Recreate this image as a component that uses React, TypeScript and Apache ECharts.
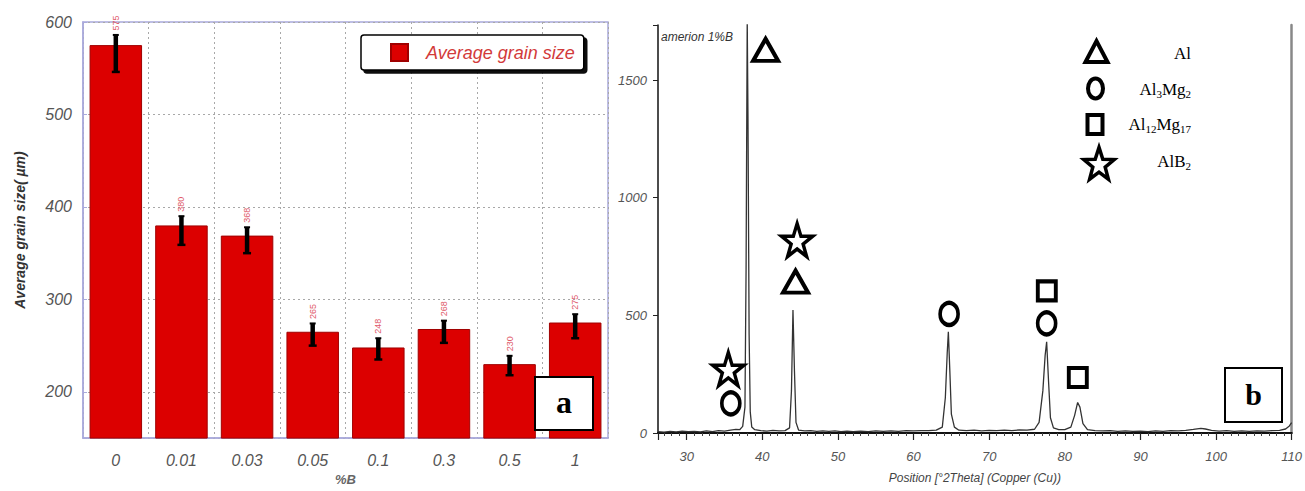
import React, { useEffect, useRef } from "react";
import * as echarts from "echarts";

// ---------- Panel (a): average grain size ----------
const grainCategories = ["0", "0.01", "0.03", "0.05", "0.1", "0.3", "0.5", "1"];
const grainSize = [575, 380, 369, 265, 248, 268, 230, 275];
const grainLabels = ["575", "380", "368", "265", "248", "268", "230", "275"];
const errorLow = [546, 359, 350, 250, 235, 253, 218, 258];
const errorHigh = [586, 390, 378, 274, 258, 277, 239, 284];

// ---------- Panel (b): XRD pattern ----------
const xrdTheta = [
  26.2, 27.0, 27.8, 28.6, 29.4, 30.2, 31.0, 31.8, 32.6, 33.4, 34.2, 35.0, 35.8, 36.5, 37.0, 37.4,
  37.7, 37.85, 38.0, 38.1, 38.25, 38.4, 38.6, 39.0, 39.8, 40.6, 41.4, 42.2, 43.0, 43.6, 43.85,
  44.05, 44.25, 44.45, 44.8, 45.6, 46.4, 47.2, 48.0, 48.8, 49.6, 50.4, 51.2, 52.0, 53.0, 54.0,
  55.0, 56.0, 57.0, 58.0, 59.0, 60.0, 61.0, 62.0, 63.0, 63.8, 64.2, 64.45, 64.6, 64.8, 65.0,
  65.4, 66.0, 67.0, 68.0, 69.0, 70.0, 71.0, 72.0, 73.0, 74.0, 75.0, 76.0, 76.6, 77.1, 77.4,
  77.6, 77.85, 78.1, 78.5, 79.2, 80.0, 80.8, 81.3, 81.7, 82.0, 82.4, 83.0, 84.0, 85.0, 86.0,
  87.0, 88.0, 89.0, 90.0, 91.0, 92.0, 93.0, 94.0, 95.0, 96.0, 97.0, 98.0, 98.6, 99.4, 100.4,
  101.4, 102.4, 103.4, 104.4, 105.4, 106.4, 107.4, 108.4, 109.2, 109.7, 110.0,
];
const xrdCounts = [
  6, 4, 7, 5, 8, 6, 7, 5, 9, 6, 10, 8, 12, 15, 14, 28,
  110, 700, 1760, 1340, 420, 90, 25, 14, 10, 8, 11, 9, 10, 22, 180,
  523, 260, 45, 12, 9, 10, 7, 9, 7, 9, 6, 8, 6, 8, 6,
  9, 7, 9, 7, 10, 9, 10, 10, 12, 25, 150, 340, 430, 260, 80,
  25, 12, 10, 12, 9, 11, 10, 12, 10, 13, 12, 16, 45, 180, 330,
  388, 220, 65, 22, 14, 14, 25, 75, 130, 110, 40, 14, 10, 9, 10,
  7, 9, 7, 8, 6, 9, 7, 10, 9, 11, 15, 20, 17, 11, 8,
  10, 7, 9, 7, 9, 8, 10, 11, 17, 30, 44,
];

// Phase markers [2θ, counts]
const alMarkers = [[40.43, 1628], [44.39, 643]];
const al3mg2Markers = [[35.83, 126], [64.7, 506], [77.6, 466]];
const al12mg17Markers = [[77.62, 604], [81.72, 236]];
const alb2Markers = [[35.5, 272], [44.6, 820]];

const STAR =
  "path://M50,0 L61.8,35 L98,35 L68.5,56.5 L79.5,91 L50,70 L20.5,91 L31.5,56.5 L2,35 L38.2,35 Z";

function starPoints(cx: number, cy: number, ro: number, ri: number, sy = 1) {
  const pts: number[][] = [];
  for (let i = 0; i < 10; i++) {
    const r = i % 2 === 0 ? ro : ri;
    const a = -Math.PI / 2 + (i * Math.PI) / 5;
    pts.push([cx + r * Math.cos(a), cy + r * Math.sin(a) * sy]);
  }
  return pts;
}

export default function App() {
  const ref = useRef<HTMLDivElement>(null);

  useEffect(() => {
    if (!ref.current) return;
    const chart = echarts.init(ref.current, undefined, { renderer: "svg" });

    const markerStyle = {
      color: "#ffffff",
      borderColor: "#000000",
      borderWidth: 4,
      opacity: 1,
    };
    const serif = "Liberation Serif, Times New Roman, serif";
    const legendRich = {
      n: { fontSize: 17, fontFamily: serif, color: "#111" },
      s: { fontSize: 11, fontFamily: serif, color: "#111", padding: [9, 0, 0, 0] },
    };

    const option: any = {
      animation: false,
      backgroundColor: "#ffffff",
      legend: {
        data: ["Average grain size"],
        left: 361,
        top: 35,
        padding: [8, 9, 8, 29],
        itemWidth: 17,
        itemHeight: 17,
        icon: "rect",
        backgroundColor: "#ffffff",
        borderColor: "#000000",
        borderWidth: 1.5,
        borderRadius: 3,
        shadowColor: "rgba(0,0,0,0.95)",
        shadowBlur: 0,
        shadowOffsetX: 3,
        shadowOffsetY: 3,
        textStyle: {
          fontSize: 18,
          fontStyle: "italic",
          fontFamily: "Liberation Sans, Arial, sans-serif",
          color: "#d23a3a",
          padding: [0, 0, 0, 13],
        },
      },
      grid: [
        {
          left: 83,
          top: 22,
          width: 525,
          height: 417,
          show: true,
          borderColor: "#a9a9dc",
          borderWidth: 1.5,
          backgroundColor: "#ffffff",
        },
        { left: 658, top: 25, width: 634, height: 408 },
      ],
      xAxis: [
        {
          type: "category",
          gridIndex: 0,
          data: grainCategories,
          name: "%B",
          nameLocation: "middle",
          nameGap: 32,
          nameTextStyle: { fontSize: 13, fontWeight: "bold", color: "#666", fontStyle: "italic" },
          axisLine: { lineStyle: { color: "#a9a9dc", width: 1.5 } },
          axisTick: { show: false },
          axisLabel: {
            margin: 14,
            fontSize: 16,
            fontStyle: "italic",
            color: "#555",
            fontFamily: "Liberation Sans, Arial, sans-serif",
          },
          splitLine: {
            show: true,
            interval: 0,
            lineStyle: { color: "#a8a8a8", type: [2, 3], width: 1 },
          },
        },
        {
          type: "value",
          gridIndex: 1,
          min: 26.2,
          max: 110,
          splitNumber: 8,
          offset: 2,
          name: "Position [°2Theta] (Copper (Cu))",
          nameLocation: "middle",
          nameGap: 37,
          nameTextStyle: {
            fontSize: 12,
            fontStyle: "italic",
            color: "#444",
            fontFamily: "Liberation Sans Narrow, Arial Narrow, Liberation Sans, sans-serif",
          },
          axisLine: { lineStyle: { color: "#111", width: 1.5 } },
          axisTick: { length: 7, lineStyle: { color: "#222", width: 1.2 } },
          minorTick: { show: true, splitNumber: 10, length: 3, lineStyle: { color: "#444" } },
          axisLabel: {
            margin: 15,
            fontSize: 13,
            fontStyle: "italic",
            color: "#555",
            fontFamily: "Liberation Sans Narrow, Arial Narrow, Liberation Sans, sans-serif",
            formatter: (v: number) => (Math.abs(v % 10) < 1e-6 ? String(v) : ""),
          },
          splitLine: { show: false },
        },
        {
          type: "value",
          gridIndex: 1,
          position: "top",
          min: 26.2,
          max: 110,
          axisLine: { lineStyle: { color: "#111", width: 2 } },
          axisTick: { show: false },
          axisLabel: { show: false },
          splitLine: { show: false },
        },
      ],
      yAxis: [
        {
          type: "value",
          gridIndex: 0,
          min: 150,
          max: 600,
          splitNumber: 5,
          name: "Average grain size( µm)",
          nameLocation: "middle",
          nameRotate: 90,
          nameGap: 56,
          nameTextStyle: {
            fontSize: 14,
            fontWeight: "bold",
            fontStyle: "italic",
            color: "#333",
            fontFamily: "Liberation Sans, Arial, sans-serif",
          },
          axisLine: { show: true, lineStyle: { color: "#a9a9dc", width: 1.5 } },
          axisTick: { show: true, inside: true, length: 4, lineStyle: { color: "#a9a9dc" } },
          axisLabel: {
            margin: 11,
            fontSize: 16,
            fontStyle: "italic",
            color: "#555",
            fontFamily: "Liberation Sans, Arial, sans-serif",
            formatter: (v: number) => (v % 100 === 0 ? String(v) : ""),
          },
          splitLine: { show: true, lineStyle: { color: "#a8a8a8", type: [2, 3], width: 1 } },
        },
        {
          type: "value",
          gridIndex: 1,
          min: 0,
          max: 1734,
          splitNumber: 4,
          axisLine: { show: true, lineStyle: { color: "#111", width: 1.5 } },
          axisTick: { show: true, length: 5, lineStyle: { color: "#222" } },
          axisLabel: {
            margin: 11,
            fontSize: 13,
            fontStyle: "italic",
            color: "#555",
            fontFamily: "Liberation Sans Narrow, Arial Narrow, Liberation Sans, sans-serif",
            formatter: (v: number) => (v % 500 === 0 ? String(v) : ""),
          },
          splitLine: { show: false },
        },
        {
          type: "value",
          gridIndex: 1,
          position: "right",
          min: 0,
          max: 1734,
          axisLine: { show: true, lineStyle: { color: "#888", width: 2.5 } },
          axisTick: { show: false },
          axisLabel: { show: false },
          splitLine: { show: false },
        },
      ],
      series: [
        {
          name: "Average grain size",
          type: "bar",
          xAxisIndex: 0,
          yAxisIndex: 0,
          barCategoryGap: "20%",
          data: grainSize,
          itemStyle: { color: "#dc0000", borderColor: "#a00000", borderWidth: 1 },
          z: 2,
        },
        {
          name: "error",
          type: "custom",
          xAxisIndex: 0,
          yAxisIndex: 0,
          z: 3,
          data: grainCategories.map((_, i) => [i, errorLow[i], errorHigh[i]]),
          renderItem: (params: any, api: any) => {
            const i = api.value(0);
            const lo = api.coord([i, api.value(1)]);
            const hi = api.coord([i, api.value(2)]);
            const x = lo[0];
            return {
              type: "group",
              children: [
                {
                  type: "line",
                  shape: { x1: x, y1: lo[1], x2: x, y2: hi[1] },
                  style: { stroke: "#000", lineWidth: 4.5 },
                },
                {
                  type: "line",
                  shape: { x1: x - 4, y1: lo[1], x2: x + 4, y2: lo[1] },
                  style: { stroke: "#000", lineWidth: 2.5 },
                },
                {
                  type: "line",
                  shape: { x1: x - 3, y1: hi[1], x2: x + 3, y2: hi[1] },
                  style: { stroke: "#000", lineWidth: 2 },
                },
                {
                  type: "text",
                  x: x,
                  y: hi[1] - 12,
                  rotation: Math.PI / 2,
                  style: {
                    text: grainLabels[params.dataIndex],
                    fontSize: 9,
                    fill: "#e05a6a",
                    align: "center",
                    verticalAlign: "middle",
                    fontFamily: "Liberation Sans, Arial, sans-serif",
                  },
                },
              ],
            };
          },
        },
        {
          name: "XRD",
          type: "line",
          xAxisIndex: 1,
          yAxisIndex: 1,
          showSymbol: false,
          clip: true,
          data: xrdTheta.map((t, i) => [t, xrdCounts[i]]),
          lineStyle: { color: "#333", width: 1.3 },
          z: 2,
        },
        {
          name: "Al",
          type: "scatter",
          xAxisIndex: 1,
          yAxisIndex: 1,
          symbol: "triangle",
          symbolSize: [25, 22],
          data: alMarkers,
          itemStyle: markerStyle,
          z: 5,
        },
        {
          name: "Al3Mg2",
          type: "scatter",
          xAxisIndex: 1,
          yAxisIndex: 1,
          symbol: "circle",
          symbolSize: [18, 22],
          data: al3mg2Markers,
          itemStyle: markerStyle,
          z: 5,
        },
        {
          name: "Al12Mg17",
          type: "scatter",
          xAxisIndex: 1,
          yAxisIndex: 1,
          symbol: "rect",
          symbolSize: [18, 19],
          data: al12mg17Markers,
          itemStyle: markerStyle,
          z: 5,
        },
        {
          name: "AlB2",
          type: "scatter",
          xAxisIndex: 1,
          yAxisIndex: 1,
          symbol: STAR,
          symbolSize: [31, 33],
          data: alb2Markers,
          itemStyle: { ...markerStyle, borderWidth: 3.5 },
          z: 5,
        },
      ],
      graphic: [
        // panel label a
        {
          type: "rect",
          shape: { x: 535, y: 377, width: 58, height: 53 },
          style: { fill: "#ffffff", stroke: "#000", lineWidth: 2 },
          z: 100,
        },
        {
          type: "text",
          x: 564,
          y: 402,
          style: {
            text: "a",
            fontSize: 32,
            fontWeight: "bold",
            fontFamily: serif,
            fill: "#000",
            align: "center",
            verticalAlign: "middle",
          },
          z: 101,
        },
        // panel label b
        {
          type: "rect",
          shape: { x: 1225, y: 368, width: 57, height: 54 },
          style: { fill: "#ffffff", stroke: "#000", lineWidth: 2 },
          z: 100,
        },
        {
          type: "text",
          x: 1253.5,
          y: 394,
          style: {
            text: "b",
            fontSize: 30,
            fontWeight: "bold",
            fontFamily: serif,
            fill: "#000",
            align: "center",
            verticalAlign: "middle",
          },
          z: 101,
        },
        // sample name
        {
          type: "text",
          x: 661,
          y: 37,
          style: {
            text: "amerion 1%B",
            fontSize: 12,
            fontStyle: "italic",
            fill: "#333",
            fontFamily: "Liberation Sans Narrow, Arial Narrow, Liberation Sans, sans-serif",
            verticalAlign: "middle",
          },
          z: 10,
        },
        // phase legend keys
        {
          type: "polygon",
          shape: { points: [[1085.5, 62], [1096.5, 41], [1107.5, 62]] },
          style: { fill: "#fff", stroke: "#000", lineWidth: 4, lineJoin: "miter" },
          z: 10,
        },
        {
          type: "ellipse",
          shape: { cx: 1095.5, cy: 88.5, rx: 7.5, ry: 10 },
          style: { fill: "#fff", stroke: "#000", lineWidth: 4 },
          z: 10,
        },
        {
          type: "rect",
          shape: { x: 1087.5, y: 115, width: 15, height: 19 },
          style: { fill: "#fff", stroke: "#000", lineWidth: 4 },
          z: 10,
        },
        {
          type: "polygon",
          shape: { points: starPoints(1099, 165, 16, 6.5, 1.1) },
          style: { fill: "#fff", stroke: "#000", lineWidth: 3.5, lineJoin: "miter" },
          z: 10,
        },
        {
          type: "text",
          x: 1191,
          y: 53,
          style: { text: "{n|Al}", rich: legendRich, align: "right", verticalAlign: "middle" },
          z: 10,
        },
        {
          type: "text",
          x: 1191,
          y: 89,
          style: {
            text: "{n|Al}{s|3}{n|Mg}{s|2}",
            rich: legendRich,
            align: "right",
            verticalAlign: "middle",
          },
          z: 10,
        },
        {
          type: "text",
          x: 1191,
          y: 124,
          style: {
            text: "{n|Al}{s|12}{n|Mg}{s|17}",
            rich: legendRich,
            align: "right",
            verticalAlign: "middle",
          },
          z: 10,
        },
        {
          type: "text",
          x: 1191,
          y: 161,
          style: {
            text: "{n|AlB}{s|2}",
            rich: legendRich,
            align: "right",
            verticalAlign: "middle",
          },
          z: 10,
        },
      ],
    };

    chart.setOption(option);
    return () => chart.dispose();
  }, []);

  return (
    <div
      ref={ref}
      style={{ position: "fixed", left: 0, top: 0, width: 1305, height: 491, background: "#fff" }}
    />
  );
}
